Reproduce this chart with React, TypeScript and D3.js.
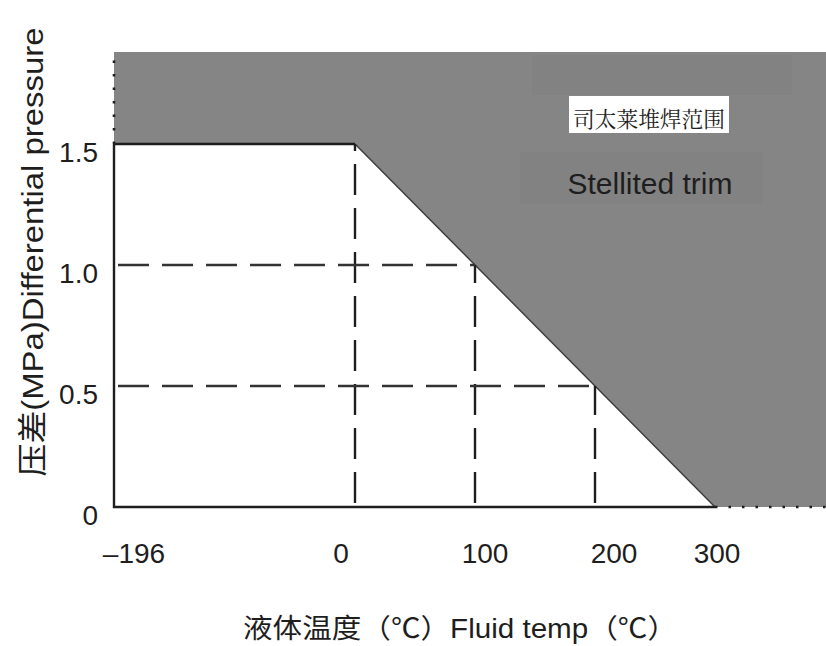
import React from "react";
import * as d3 from "d3";

// ---- data ----
const xTicks = [-196, 0, 100, 200, 300];
const xTickLabels = ["–196", "0", "100", "200", "300"];
const yTicks = [0, 0.5, 1.0, 1.5];
const yTickLabels = ["0", "0.5", "1.0", "1.5"];
// limit curve: temperature (°C) vs max differential pressure (MPa)
const limitTemps = [-196, 0, 300];
const limitPressures = [1.5, 1.5, 0];
// guide points (dashed reference lines)
const guideTemps = [0, 100, 200];
const guidePressures = [1.5, 1.0, 0.5];
const pressureTop = 1.88;
const regionLabelCn = "司太莱堆焊范围";
const regionLabelEn = "Stellited trim";
const yTitle = "压差(MPa)Differential pressure";
const xTitleParts = ["液体温度（℃）", "Fluid temp", "（℃）"];

// ---- layout (not data) ----
const W = 826;
const H = 646;
const tickNudge = [20, -14, 10, 19, 2];
const LATIN = "'Liberation Sans', Arial, Helvetica, sans-serif";
const CJK = "'Noto Sans CJK SC', sans-serif";
const MIXED = "'Liberation Sans', 'Noto Sans CJK SC', sans-serif";
const INK = "#1e1e1e";
const FILL = "#858585";

export default function App() {
  const x = d3.scaleLinear().domain([-196, 0, 300]).range([114, 355, 715]);
  const y = d3.scaleLinear().domain([0, 1.5]).range([507, 144]);

  const limit = limitTemps.map((t, i) => [x(t), y(limitPressures[i])] as [number, number]);
  const region: [number, number][] = [
    [x(limitTemps[0]), y(pressureTop)],
    [W, y(pressureTop)],
    [W, y(0)],
    ...limit.slice().reverse(),
  ];
  const line = d3.line();

  return (
    <svg
      width={W}
      height={H}
      viewBox={`0 0 ${W} ${H}`}
      style={{ position: "absolute", left: 0, top: 0, background: "#fff" }}
    >
      {/* shaded region */}
      <path d={line(region) + "Z"} fill={FILL} />
      <rect x={532} y={55} width={260} height={40} fill="#828282" />
      <rect x={520} y={152} width={243} height={52} fill="#828282" />

      {/* boundary diagonal edge */}
      <path d={line(limit.slice(1)) || ""} fill="none" stroke="#3a3a3a" strokeWidth={1.4} />

      {/* dashed guides */}
      {guideTemps.map((t, i) => (
        <line
          key={"v" + i}
          x1={x(t)}
          x2={x(t)}
          y1={y(0)}
          y2={y(guidePressures[i])}
          stroke={INK}
          strokeWidth={2.4}
          strokeDasharray="31,13"
          strokeDashoffset={-4}
        />
      ))}
      {guideTemps.map((t, i) =>
        guidePressures[i] < 1.5 ? (
          <line
            key={"h" + i}
            x1={x(-196)}
            x2={x(t)}
            y1={y(guidePressures[i])}
            y2={y(guidePressures[i])}
            stroke="#333"
            strokeWidth={2.4}
            strokeDasharray="31,13"
            strokeDashoffset={-4}
          />
        ) : null
      )}

      {/* dotted extensions */}
      <line
        x1={x(-196)}
        x2={x(-196)}
        y1={y(1.5)}
        y2={y(pressureTop)}
        stroke={INK}
        strokeWidth={2.6}
        strokeDasharray="2.5,11"
      />
      <line
        x1={x(300)}
        x2={W}
        y1={y(0)}
        y2={y(0)}
        stroke={INK}
        strokeWidth={2.6}
        strokeDasharray="2.5,11"
      />

      {/* axes */}
      <line x1={x(-196)} x2={x(-196)} y1={y(0) + 1} y2={y(1.5)} stroke={INK} strokeWidth={2.4} />
      <line x1={x(-196) - 1} x2={x(300)} y1={y(0)} y2={y(0)} stroke={INK} strokeWidth={2.4} />
      <line x1={x(-196) - 1} x2={x(0)} y1={y(1.5)} y2={y(1.5)} stroke={INK} strokeWidth={2.4} />

      {/* y tick labels */}
      {yTicks.map((v, i) => (
        <text
          key={"yt" + i}
          x={98}
          y={y(v) + 18}
          textAnchor="end"
          fontFamily={LATIN}
          fontSize={28}
          fill={INK}
        >
          {yTickLabels[i]}
        </text>
      ))}

      {/* x tick labels */}
      {xTicks.map((v, i) => (
        <text
          key={"xt" + i}
          x={x(v) + tickNudge[i]}
          y={563}
          textAnchor="middle"
          fontFamily={LATIN}
          fontSize={28}
          fill={INK}
        >
          {xTickLabels[i]}
        </text>
      ))}

      {/* region labels */}
      <rect x={569} y={96} width={160} height={37} fill="#fff" />
      <text
        x={649}
        y={127}
        textAnchor="middle"
        fontFamily="'Noto Serif CJK SC', 'Noto Sans CJK SC', serif"
        fontSize={22}
        fill={INK}
        textLength={152}
        lengthAdjust="spacingAndGlyphs"
      >
        {regionLabelCn}
      </text>
      <text
        x={650}
        y={194}
        textAnchor="middle"
        fontFamily={LATIN}
        fontSize={29}
        fill={INK}
        textLength={165}
        lengthAdjust="spacingAndGlyphs"
      >
        {regionLabelEn}
      </text>

      {/* axis titles */}
      <text
        transform="translate(43,252) rotate(-90)"
        textAnchor="middle"
        fontFamily={MIXED}
        fontSize={30}
        fill={INK}
        textLength={449}
        lengthAdjust="spacingAndGlyphs"
      >
        {yTitle}
      </text>
      <text
        x={460}
        y={638}
        textAnchor="middle"
        fontSize={27}
        fill={INK}
        textLength={434}
        lengthAdjust="spacingAndGlyphs"
      >
        <tspan fontFamily={CJK}>{xTitleParts[0]}</tspan>
        <tspan fontFamily={LATIN}>{xTitleParts[1]}</tspan>
        <tspan fontFamily={CJK}>{xTitleParts[2]}</tspan>
      </text>
    </svg>
  );
}
